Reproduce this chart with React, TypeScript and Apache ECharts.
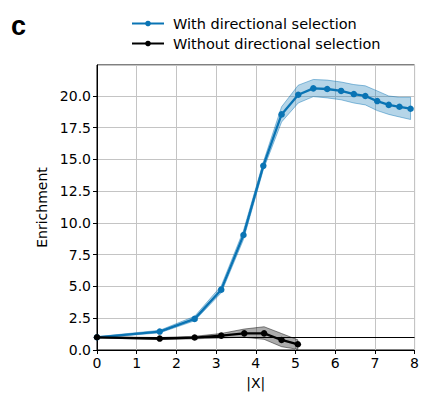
import React, { useEffect, useRef } from "react";
import * as echarts from "echarts";

const xBlue = [0, 1.58, 2.46, 3.13, 3.69, 4.19, 4.65, 5.07, 5.45, 5.8, 6.15, 6.47, 6.76, 7.06, 7.35, 7.62, 7.9];
const yBlue = [1.0, 1.45, 2.45, 4.75, 9.05, 14.5, 18.55, 20.1, 20.6, 20.55, 20.4, 20.15, 20.0, 19.6, 19.3, 19.15, 19.0];
const upBlue = [1.05, 1.55, 2.65, 5.05, 9.4, 14.8, 19.15, 20.85, 21.3, 21.25, 21.1, 20.9, 20.8, 20.4, 20.0, 19.9, 19.9];
const loBlue = [0.95, 1.35, 2.3, 4.5, 8.7, 14.2, 17.95, 19.45, 19.95, 19.85, 19.7, 19.45, 19.3, 18.85, 18.55, 18.35, 18.15];

const xBlack = [0, 1.58, 2.46, 3.13, 3.71, 4.21, 4.65, 5.06];
const yBlack = [1.0, 0.9, 0.98, 1.13, 1.31, 1.31, 0.79, 0.45];
const upBlack = [1.05, 0.98, 1.08, 1.3, 1.65, 1.83, 1.3, 0.8];
const loBlack = [0.95, 0.82, 0.88, 0.95, 1.0, 0.84, 0.26, 0.05];

const xTicks = [0, 1, 2, 3, 4, 5, 6, 7, 8];
const yTicks = [0, 2.5, 5, 7.5, 10, 12.5, 15, 17.5, 20];

const nameBlue = "With directional selection";
const nameBlack = "Without directional selection";

const BLUE = "#0a74b4";
const FONT = "DejaVu Sans";

function bandSeries(name: string, xs: number[], lo: number[], up: number[], fill: string, edge: string) {
  return {
    name,
    type: "custom",
    silent: true,
    z: 1,
    clip: true,
    data: xs.map((x, i) => [x, lo[i], up[i]]),
    encode: { x: 0, y: [1, 2] },
    renderItem: (params: any, api: any) => {
      if (params.dataIndex !== 0) return null;
      const top = xs.map((x, i) => api.coord([x, up[i]]));
      const bot = xs.map((x, i) => api.coord([x, lo[i]])).reverse();
      return {
        type: "polygon",
        shape: { points: top.concat(bot) },
        style: { fill, stroke: edge, lineWidth: 1 },
      };
    },
  };
}

export default function App() {
  const ref = useRef<HTMLDivElement>(null);
  useEffect(() => {
    document.body.style.margin = "0";
    const chart = echarts.init(ref.current!, null, { renderer: "svg" });
    const pairs = (xs: number[], ys: number[]) => xs.map((x, i) => [x, ys[i]]);
    chart.setOption({
      animation: false,
      textStyle: { fontFamily: FONT },
      graphic: [
        {
          type: "text",
          left: 11,
          top: 12,
          style: { text: "c", font: "bold 27px 'Liberation Sans', Arial", fill: "#000" },
        },
      ],
      legend: {
        orient: "vertical",
        left: 131,
        top: 15,
        itemGap: 3,
        itemWidth: 32,
        itemHeight: 7,
        padding: 0,
        data: [nameBlue, nameBlack],
        textStyle: { fontFamily: FONT, fontSize: 14.5, lineHeight: 17, color: "#000", padding: [0, 0, 0, 4] },
      },
      grid: {
        left: 97,
        right: 6,
        top: 65,
        bottom: 45,
        show: true,
        borderColor: "#000",
        borderWidth: 1,
        backgroundColor: "transparent",
      },
      xAxis: {
        type: "value",
        min: 0,
        max: 8,
        interval: 1,
        name: "|X|",
        nameLocation: "middle",
        nameGap: 26,
        nameTextStyle: { fontFamily: FONT, fontSize: 14, color: "#000" },
        axisLine: { show: true, lineStyle: { color: "#000", width: 1 } },
        axisTick: { show: true, inside: false, length: 4, lineStyle: { color: "#000" } },
        axisLabel: {
          fontFamily: FONT,
          fontSize: 14,
          color: "#000",
          margin: 6,
          formatter: (v: number) => (xTicks.includes(v) ? String(v) : ""),
        },
        splitLine: { show: true, lineStyle: { color: "#c4c4c4", width: 1 } },
      },
      yAxis: {
        type: "value",
        min: 0,
        max: 22.44,
        interval: 2.5,
        name: "Enrichment",
        nameLocation: "middle",
        nameGap: 42,
        nameTextStyle: { fontFamily: FONT, fontSize: 14, color: "#000" },
        axisLine: { show: true, lineStyle: { color: "#000", width: 1 } },
        axisTick: { show: true, inside: false, length: 4, lineStyle: { color: "#000" } },
        axisLabel: {
          fontFamily: FONT,
          fontSize: 14,
          color: "#000",
          margin: 6,
          showMaxLabel: false,
          formatter: (v: number) => (yTicks.includes(v) ? v.toFixed(1) : ""),
        },
        splitLine: { show: true, lineStyle: { color: "#c4c4c4", width: 1 } },
      },
      series: [
        bandSeries("blueBand", xBlue, loBlue, upBlue, "rgba(10,116,180,0.3)", "rgba(10,116,180,0.45)"),
        bandSeries("blackBand", xBlack, loBlack, upBlack, "rgba(0,0,0,0.33)", "rgba(0,0,0,0.45)"),
        {
          name: nameBlue,
          type: "line",
          data: pairs(xBlue, yBlue),
          symbol: "circle",
          symbolSize: 6.5,
          itemStyle: { color: BLUE },
          lineStyle: { color: BLUE, width: 2.3 },
          z: 3,
        },
        {
          name: nameBlack,
          type: "line",
          data: pairs(xBlack, yBlack),
          symbol: "circle",
          symbolSize: 6.5,
          itemStyle: { color: "#000" },
          lineStyle: { color: "#000", width: 2.3 },
          z: 4,
          markLine: {
            silent: true,
            symbol: ["none", "none"],
            label: { show: false },
            lineStyle: { color: "#000", type: "solid", width: 1.2 },
            data: [{ yAxis: 1 }],
          },
        },
      ],
    });
    return () => chart.dispose();
  }, []);
  return <div ref={ref} style={{ width: 422, height: 395 }} />;
}
